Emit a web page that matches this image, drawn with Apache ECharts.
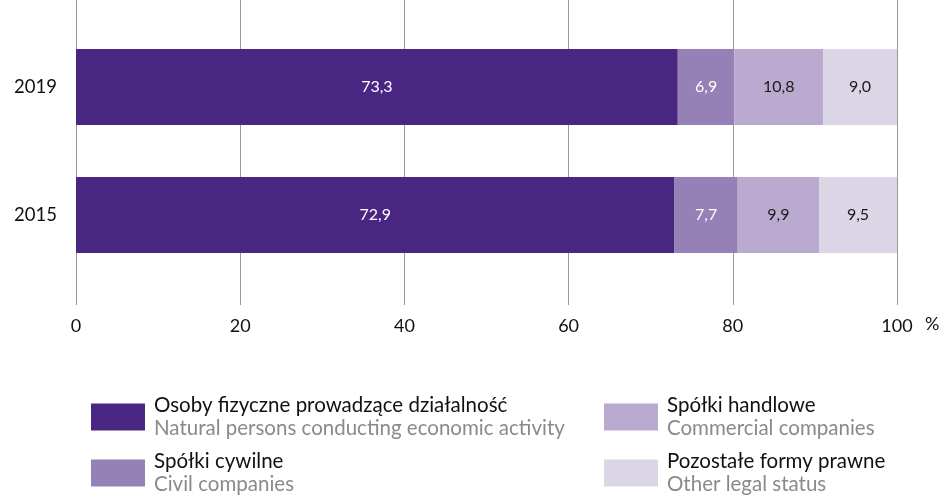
<!DOCTYPE html>
<html><head><meta charset="utf-8">
<script src="https://cdn.jsdelivr.net/npm/echarts@6/dist/echarts.min.js"></script>
<style>html,body{margin:0;padding:0;background:#fff}#c{width:945px;height:498px}</style>
</head><body><div id="c"></div>
<script>
const years = ['2015', '2019'];
const seriesPL = ['Osoby fizyczne prowadzące działalność', 'Spółki cywilne', 'Spółki handlowe', 'Pozostałe formy prawne'];
const seriesEN = ['Natural persons conducting economic activity', 'Civil companies', 'Commercial companies', 'Other legal status'];
const natural = [72.9, 73.3];
const civil = [7.7, 6.9];
const commercial = [9.9, 10.8];
const other = [9.5, 9.0];
const xTicks = [0, 20, 40, 60, 80, 100];

const values = [natural, civil, commercial, other];
const colors = ['#4a2683', '#9581b5', '#baaacf', '#dcd5e6'];
const labelColors = ['#ffffff', '#ffffff', '#1a1a1a', '#1a1a1a'];
const FONT = 'Lato';

const chart = echarts.init(document.getElementById('c'), null, {renderer: 'canvas'});
const legendPos = [[91, 395], [91, 451], [604, 395], [604, 451]];
const legends = seriesPL.map((name, i) => ({
  data: [name], left: legendPos[i][0], top: legendPos[i][1],
  padding: 0,
  itemWidth: 54, itemHeight: 27, itemGap: 0, icon: 'rect',
  selectedMode: false,
  formatter: n => '{a|' + n + '}\n{b|' + seriesEN[seriesPL.indexOf(n)] + '}',
  textStyle: {
    rich: {
      a: {fontFamily: FONT, fontSize: 20.5, color: '#111', lineHeight: 23},
      b: {fontFamily: FONT, fontSize: 20.5, color: '#8a8a8a', lineHeight: 23}
    },
    padding: [0, 0, 0, 4]
  }
}));

chart.setOption({
  animation: false,
  textStyle: {fontFamily: FONT},
  grid: [
    {left: 76, right: 48, top: 0, bottom: 193},
    {left: 76, right: 48, top: 23, height: 256}
  ],
  xAxis: [
    {gridIndex: 0, type: 'value', min: 0, max: 100, interval: 20,
     axisLine: {show: false}, axisTick: {show: false},
     splitLine: {show: true, lineStyle: {color: '#9a9a9a', width: 1}},
     axisLabel: {fontFamily: FONT, fontSize: 18, color: '#111', margin: 12,
       formatter: v => xTicks.includes(v) ? String(v) : ''}},
    {gridIndex: 1, type: 'value', min: 0, max: 100, show: false}
  ],
  yAxis: [
    {gridIndex: 0, type: 'value', show: false},
    {gridIndex: 1, type: 'category', data: years,
     axisLine: {show: false}, axisTick: {show: false},
     axisLabel: {fontFamily: FONT, fontSize: 18.5, color: '#111', margin: 19}}
  ],
  legend: legends,
  graphic: [{type: 'text', left: 925, top: 315,
    style: {text: '%', fontFamily: FONT, fontSize: 18, fill: '#111'}}],
  series: seriesPL.map((name, i) => ({
    name, type: 'bar', stack: 'total', xAxisIndex: 1, yAxisIndex: 1,
    barWidth: 76, data: values[i],
    itemStyle: {color: colors[i]},
    label: {show: true, position: 'inside', color: labelColors[i],
      fontFamily: FONT, fontSize: 16,
      formatter: p => p.value.toFixed(1).replace('.', ',')}
  }))
});
</script></body></html>
